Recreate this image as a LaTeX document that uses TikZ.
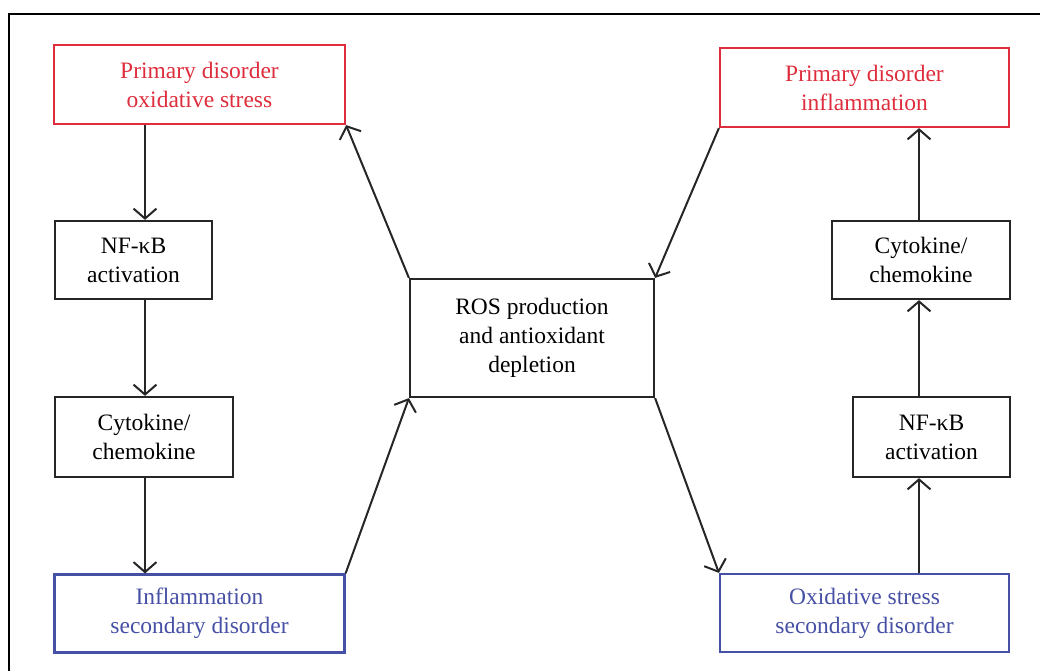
\documentclass[tikz,border=0pt]{standalone}
\usepackage{fontspec}
\setmainfont{Liberation Serif}
\usetikzlibrary{arrows.meta}
\definecolor{boxred}{RGB}{222,45,60}
\definecolor{boxblue}{RGB}{70,80,165}
\tikzset{
  block/.style={draw=black!85,line width=2.2pt,align=center,inner sep=0pt,
    font=\fontsize{23.5}{29}\selectfont},
  primary/.style={block,draw=boxred,text=boxred},
  secondary/.style={block,draw=boxblue,text=boxblue},
  arr/.style={draw=black!85,line width=2pt,-{Straight Barb[length=10pt,width=23pt,line width=2pt]}}
}
\begin{document}
\begin{tikzpicture}[x=1pt,y=-1pt]
    \useasboundingbox (0,0) rectangle (1040,671);
    \draw[line width=2.4pt] (9,671) -- (9,14) -- (1040,14);

    % Left column
    \node[primary,minimum width=291pt,minimum height=79pt] (prim1) at (199.5,84.5) {Primary disorder\\oxidative stress};
    \node[block,minimum width=157pt,minimum height=78pt] (nfkb1) at (133.5,260) {NF-κB\\activation};
    \node[block,minimum width=178pt,minimum height=80pt] (cyto1) at (144,437) {Cytokine/\\chemokine};
    \node[secondary,minimum width=290pt,minimum height=78pt] (sec1) at (199.5,613.5) {Inflammation\\secondary disorder};

    % Centre
    \node[block,minimum width=244pt,minimum height=118pt] (ros) at (532,338) {ROS production\\and antioxidant\\depletion};

    % Right column
    \node[primary,minimum width=289pt,minimum height=79pt] (prim2) at (864.5,87.5) {Primary disorder\\inflammation};
    \node[block,minimum width=178pt,minimum height=78pt] (cyto2) at (921,260) {Cytokine/\\chemokine};
    \node[block,minimum width=157pt,minimum height=80pt] (nfkb2) at (931.5,437) {NF-κB\\activation};
    \node[secondary,minimum width=289pt,minimum height=78pt] (sec2) at (864.5,613) {Oxidative stress\\secondary disorder};

    \coordinate (lx) at (145,0);
    \coordinate (rx) at (919,0);

    % Arrows
    \draw[arr] (prim1.south -| lx) -- (nfkb1.north -| lx);
    \draw[arr] (nfkb1.south -| lx) -- (cyto1.north -| lx);
    \draw[arr] (cyto1.south -| lx) -- (sec1.north -| lx);
    \draw[arr] (sec1.north east) -- (ros.south west);
    \draw[arr] (ros.north west) -- (prim1.south east);
    \draw[arr] (prim2.south west) -- (ros.north east);
    \draw[arr] (ros.south east) -- (sec2.north west);
    \draw[arr] (sec2.north -| rx) -- (nfkb2.south -| rx);
    \draw[arr] (nfkb2.north -| rx) -- (cyto2.south -| rx);
    \draw[arr] (cyto2.north -| rx) -- (prim2.south -| rx);
\end{tikzpicture}
\end{document}
